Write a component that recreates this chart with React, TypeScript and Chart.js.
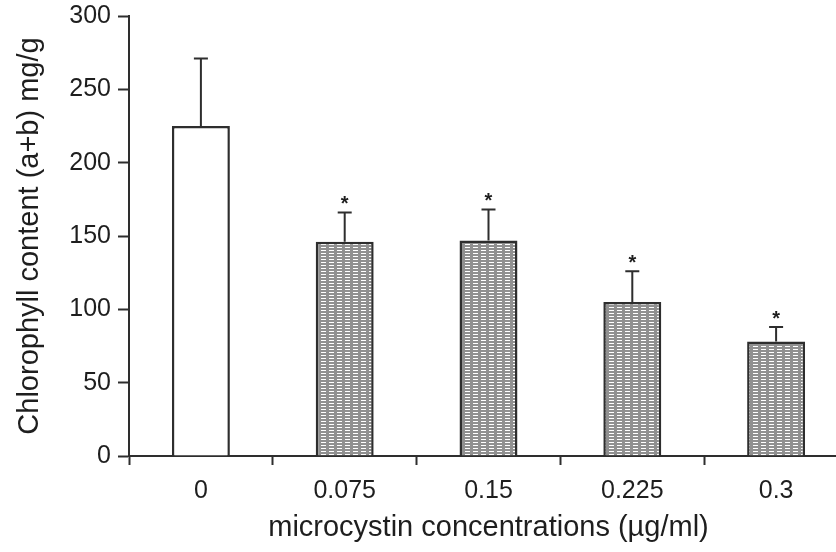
import React, { useEffect, useRef } from 'react';
import { Chart, registerables } from 'chart.js';

Chart.register(...registerables);

const categories = ['0', '0.075', '0.15', '0.225', '0.3'];
const means = [225, 146, 147, 105, 78];
const errors = [46, 20, 21, 21, 10];
const significant = [false, true, true, true, true];
const yMin = 0;
const yMax = 300;
const yStep = 50;
const xTitle = 'microcystin concentrations (µg/ml)';
const yTitle = 'Chlorophyll content (a+b) mg/g';

const FONT = '"Liberation Sans", Arial, Helvetica, sans-serif';
const INK = '#1e1e1e';
const LINE = '#2e2e2e';

function makePattern(): CanvasPattern | string {
  const c = document.createElement('canvas');
  c.width = 8;
  c.height = 3;
  const g = c.getContext('2d');
  if (!g) return '#a8a8a8';
  g.fillStyle = '#909090';
  g.fillRect(0, 0, 8, 3);
  g.fillStyle = '#ffffff';
  g.fillRect(1, 1, 5, 1);
  const p = g.createPattern(c, 'repeat');
  return p || '#a8a8a8';
}

const errorBarPlugin = {
  id: 'errorBars',
  afterDatasetsDraw(chart: any) {
    const ctx = chart.ctx;
    const meta = chart.getDatasetMeta(0);
    const ys = chart.scales.y;
    ctx.save();
    ctx.strokeStyle = LINE;
    ctx.lineWidth = 2;
    meta.data.forEach((bar: any, i: number) => {
      const x = bar.x;
      const top = ys.getPixelForValue(means[i]);
      const et = ys.getPixelForValue(means[i] + errors[i]);
      ctx.beginPath();
      ctx.moveTo(x, top);
      ctx.lineTo(x, et);
      ctx.moveTo(x - 7, et);
      ctx.lineTo(x + 7, et);
      ctx.stroke();
      if (significant[i]) {
        ctx.fillStyle = INK;
        ctx.font = `bold 20px ${FONT}`;
        ctx.textAlign = 'center';
        ctx.textBaseline = 'alphabetic';
        ctx.fillText('*', x, et - 14 + 0.58 * 20);
      }
    });
    ctx.restore();
  },
};

export default function App() {
  const ref = useRef<HTMLCanvasElement | null>(null);

  useEffect(() => {
    if (!ref.current) return;
    const pattern = makePattern();
    const chart = new Chart(ref.current, {
      type: 'bar',
      data: {
        labels: categories,
        datasets: [
          {
            data: means,
            backgroundColor: means.map((_, i) => (i === 0 ? '#ffffff' : pattern)) as any,
            borderColor: LINE,
            borderWidth: 2.5,
            barPercentage: 0.403,
            categoryPercentage: 1,
          },
        ],
      },
      options: {
        animation: false,
        responsive: true,
        maintainAspectRatio: false,
        layout: { padding: { top: 16, right: 2, left: 0, bottom: 0 } },
        plugins: {
          legend: { display: false },
          tooltip: { enabled: false },
        },
        scales: {
          x: {
            offset: true,
            grid: {
              offset: true,
              drawOnChartArea: false,
              drawTicks: true,
              tickLength: 9,
              tickWidth: 2,
              tickColor: LINE,
            },
            border: { display: true, color: LINE, width: 2 },
            ticks: {
              color: INK,
              font: { family: FONT, size: 25 },
              padding: 11,
              maxRotation: 0,
            },
            title: {
              display: true,
              text: xTitle,
              color: INK,
              font: { family: FONT, size: 29 },
              padding: { top: 0, bottom: 7 },
            },
            afterFit(scale: any) {
              scale.height = 96;
              scale.paddingLeft = 0;
              scale.paddingRight = 0;
            },
          },
          y: {
            min: yMin,
            max: yMax,
            ticks: {
              stepSize: yStep,
              color: INK,
              font: { family: FONT, size: 25 },
              padding: 7,
            },
            grid: {
              drawOnChartArea: false,
              drawTicks: true,
              tickLength: 11,
              tickWidth: 2,
              tickColor: LINE,
            },
            border: { display: true, color: LINE, width: 2 },
            title: {
              display: true,
              text: yTitle,
              color: INK,
              font: { family: FONT, size: 29 },
              padding: { top: 13, bottom: 0 },
            },
            afterFit(scale: any) {
              scale.width = 129;
              scale.paddingTop = 0;
              scale.paddingBottom = 0;
            },
          },
        },
      },
      plugins: [errorBarPlugin],
    });
    return () => chart.destroy();
  }, []);

  return (
    <div
      style={{
        position: 'absolute',
        left: 0,
        top: 0,
        width: 836,
        height: 552,
        overflow: 'hidden',
        background: '#ffffff',
      }}
    >
      <div style={{ position: 'relative', width: 850, height: 552 }}>
        <canvas ref={ref} />
      </div>
    </div>
  );
}
